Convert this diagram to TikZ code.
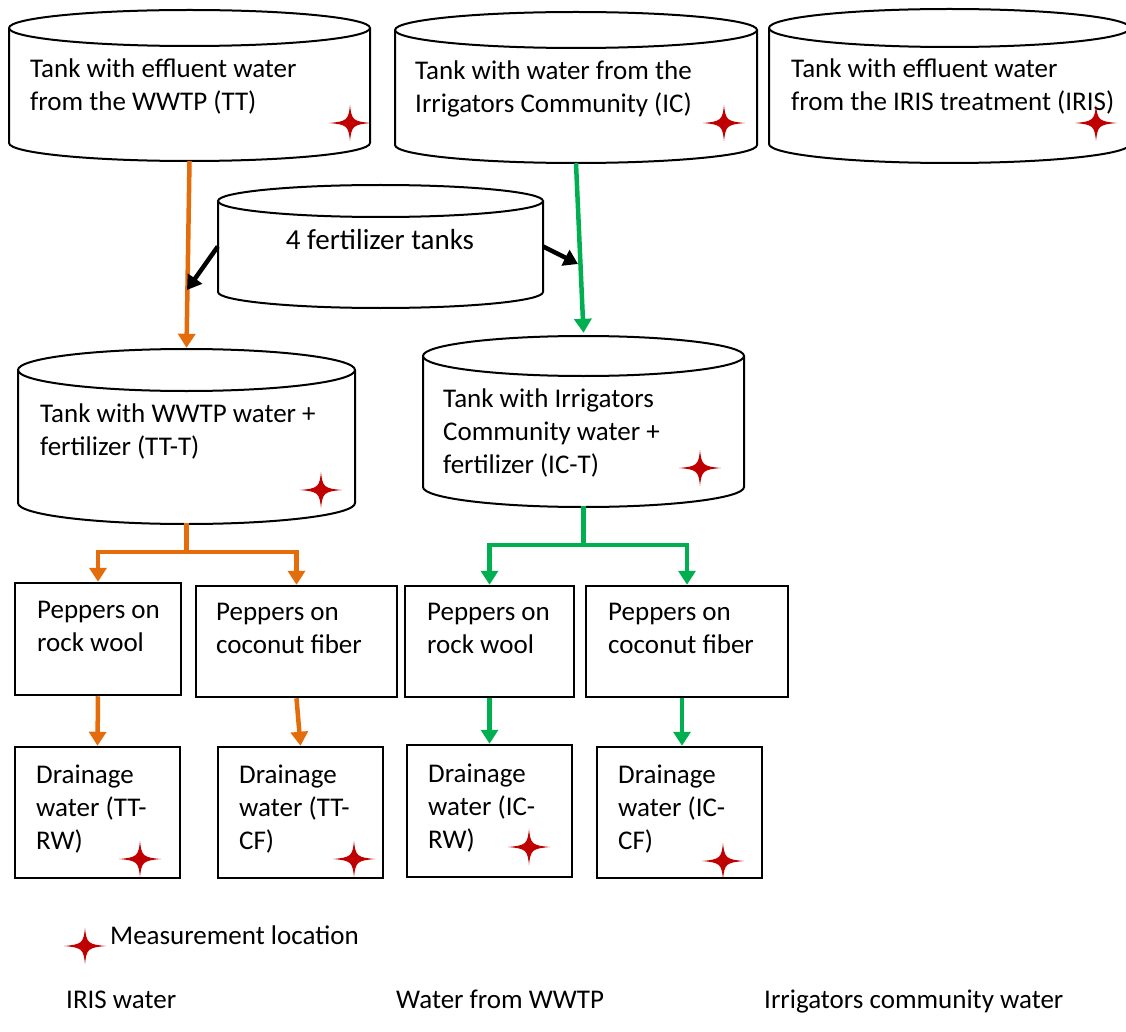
\documentclass[tikz,border=0pt]{standalone}
\usepackage{fontspec}
\setmainfont{Carlito}
\usetikzlibrary{arrows.meta,calc}
\definecolor{wwtp}{HTML}{E46C0A}
\definecolor{icg}{HTML}{00B050}
\definecolor{starred}{HTML}{C00000}
\newcommand\tank[6]{%
  \pgfmathsetmacro\tkxm{(#2+#3)/2}%
  \pgfmathsetmacro\tkrx{(#3-#2)/2}%
  \pgfmathsetmacro\tkym{(#4+#5)/2}%
  \pgfmathsetmacro\tkw{#3-#2}%
  \pgfmathsetmacro\tkh{#5-#4}%
  \pgfmathsetmacro\tkk{0.5523*#6}%
  \pgfmathsetmacro\tkkx{0.5523*\tkrx}%
  \node[draw=none, inner sep=0, minimum width=\tkw pt, minimum height=\tkh pt] (#1) at (\tkxm,\tkym) {};
  \draw[cylline] (#2,#4) -- (#2,#5) .. controls (#2,#5+\tkk) and (\tkxm-\tkkx,#5+#6) .. (\tkxm,#5+#6) .. controls (\tkxm+\tkkx,#5+#6) and (#3,#5+\tkk) .. (#3,#5) -- (#3,#4);
  \draw[cylline] (\tkxm,#4) ellipse [x radius=\tkrx, y radius=#6];
}
\newcommand\boxat[5]{%
  \pgfmathsetmacro\bxm{(#2+#3)/2}%
  \pgfmathsetmacro\bym{(#4+#5)/2}%
  \pgfmathsetmacro\bw{#3-#2}%
  \pgfmathsetmacro\bh{#5-#4}%
  \node[boxline, minimum width=\bw pt, minimum height=\bh pt] (#1) at (\bxm,\bym) {};
}
\newcommand\mltext[4]{\node[txt] (#1) at (#2,#3-23.1) {\strut #4};}
\tikzset{
  cylline/.style={draw=black, line width=2pt},
  boxline/.style={draw=black, line width=2.5pt, inner sep=0},
  txt/.style={font=\fontsize{27}{33}\selectfont, inner sep=0, align=left, anchor=north west},
  ltxt/.style={font=\fontsize{27}{33}\selectfont, inner sep=0, anchor=base west},
  oline/.style={draw=wwtp, line width=4.5pt},
  gline/.style={draw=icg, line width=4.5pt},
  oarr/.style={oline, -{Triangle[width=17pt,length=14pt]}},
  garr/.style={gline, -{Triangle[width=17pt,length=14pt]}},
  karr/.style={draw=black, line width=4.5pt, -{Triangle[width=17pt,length=14pt]}},
  mstar/.pic={\fill[starred] (21,0) .. controls (3,1.6) and (1.6,3) .. (0,18) .. controls (-1.6,3) and (-3,1.6) .. (-21,0) .. controls (-3,-1.6) and (-1.6,-3) .. (0,-18) .. controls (1.6,-3) and (3,-1.6) .. (21,0) -- cycle;}
}
\begin{document}
\begin{tikzpicture}[x=1pt,y=-1pt]
\useasboundingbox (0,0) rectangle (1126,1032);
\fill[white] (0,0) rectangle (1126,1032);
\clip (0,0) rectangle (1126,1032);

% tanks
\tank{tt}{9}{370}{28}{143}{18}
\tank{ic}{395}{757}{30}{145}{18}
\tank{iris}{769}{1130}{28}{144}{19}
\tank{fert}{218}{543}{201}{292}{16}
\tank{ttt}{18}{355}{370}{503}{21}
\tank{ict}{423}{744}{356}{487}{20}

% boxes
\boxat{p1}{15}{181}{583}{695}
\boxat{p2}{196}{397}{586}{697}
\boxat{p3}{405}{574}{586}{697}
\boxat{p4}{586}{788}{586}{697}
\boxat{d1}{15}{180}{747}{878}
\boxat{d2}{218}{383}{747}{878}
\boxat{d3}{407}{572}{745}{877}
\boxat{d4}{597}{762}{747}{878}

% texts
\mltext{tt-t}{30}{77}{Tank with effluent water\\from the WWTP (TT)}
\mltext{ic-t}{415}{79}{Tank with water from the\\Irrigators Community (IC)}
\mltext{iris-t}{791}{77}{Tank with effluent water\\from the IRIS treatment (IRIS)}
\node[font=\fontsize{29}{35}\selectfont, inner sep=0, anchor=base] (fert-t) at (380,250) {4 fertilizer tanks};
\mltext{ttt-t}{40}{422}{Tank with WWTP water +\\fertilizer (TT-T)}
\mltext{ict-t}{443}{407}{Tank with Irrigators\\Community water +\\fertilizer (IC-T)}
\mltext{p1-t}{37}{618}{Peppers on\\rock wool}
\mltext{p2-t}{216}{620}{Peppers on\\coconut fiber}
\mltext{p3-t}{427}{620}{Peppers on\\rock wool}
\mltext{p4-t}{608}{620}{Peppers on\\coconut fiber}
\mltext{d1-t}{36}{783}{Drainage\\water (TT-\\RW)}
\mltext{d2-t}{239}{783}{Drainage\\water (TT-\\CF)}
\mltext{d3-t}{428}{782}{Drainage\\water (IC-\\RW)}
\mltext{d4-t}{618}{783}{Drainage\\water (IC-\\CF)}

% main flow arrows
\draw[oarr] ($(tt.south)+(0,18)$) -- ($(ttt.north)+(0,-22)$);
\draw[garr] ($(ic.south)+(0,18)$) -- ($(ict.north)+(0,-23)$);
\coordinate (fl) at (187,290);
\coordinate (fr) at (578,264);
\draw[karr] (fert.west) -- (fl);
\draw[karr] (fert.east) -- (fr);

% distribution
\coordinate (ojn) at ($(ttt.south)+(0,49)$);
\draw[oline] ($(ttt.south)+(0,20)$) -- (ojn);
\draw[oarr] (ojn) -| (p1.north);
\draw[oarr] (ojn) -| (p2.north);
\coordinate (gjn) at ($(ict.south)+(0,58)$);
\draw[gline] ($(ict.south)+(0,19)$) -- (gjn);
\draw[garr] (gjn) -| (p3.north);
\draw[garr] (gjn) -| (p4.north);

\draw[oarr] (p1.south) -- (d1.north);
\draw[oarr] (p2.south) -- (d2.north);
\draw[garr] (p3.south) -- (d3.north);
\draw[garr] ($(p4.south)+(-5,0)$) -- ($(d4.north)+(2.5,0)$);

% stars
\pic at (350,123) {mstar};
\pic at (724,123) {mstar};
\pic at (1096,123) {mstar};
\pic at (321,490) {mstar};
\pic at (700,468) {mstar};
\pic at (140,859) {mstar};
\pic at (354,859) {mstar};
\pic at (529,847) {mstar};
\pic at (723,861) {mstar};
\pic at (85,946) {mstar};

% legend
\node[ltxt] (leg-m) at (110,944) {Measurement location};
\node[ltxt] (leg-iris) at (66,1008) {IRIS water};
\node[ltxt] (leg-wwtp) at (396,1008) {Water from WWTP};
\node[ltxt] (leg-ic) at (764,1008) {Irrigators community water};
\end{tikzpicture}
\end{document}
